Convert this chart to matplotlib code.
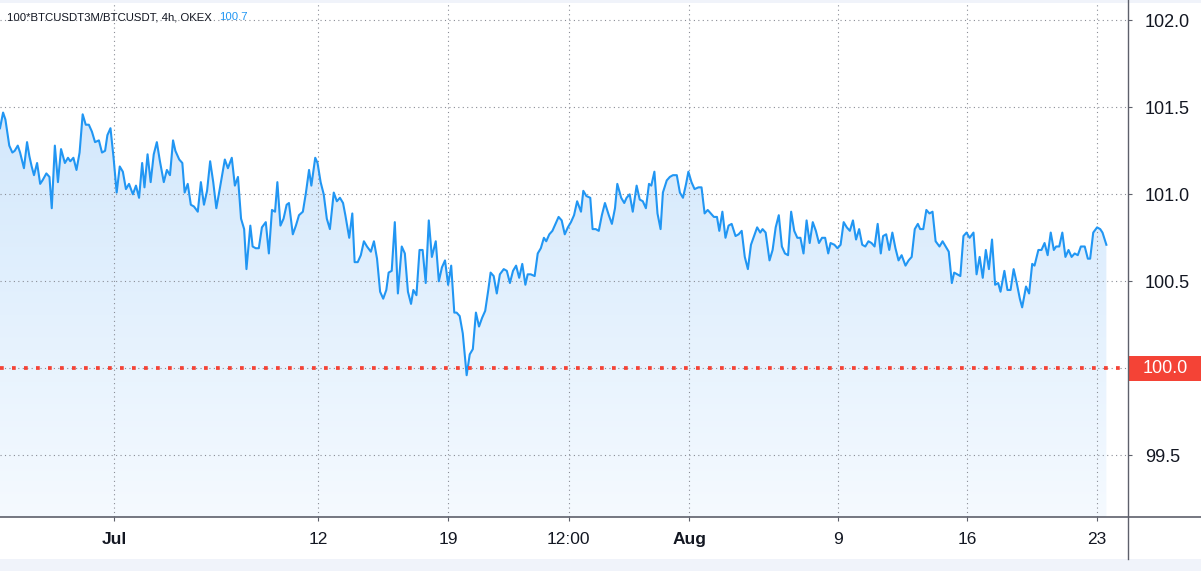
import numpy as np
import pandas as pd
import matplotlib
matplotlib.use('Agg')
import matplotlib.pyplot as plt
from matplotlib.colors import LinearSegmentedColormap
from matplotlib.patches import Rectangle
from matplotlib.lines import Line2D
from matplotlib.transforms import blended_transform_factory
import matplotlib.dates as mdates

plt.rcParams['font.family'] = ['Liberation Sans', 'DejaVu Sans']

# 100*BTCUSDT3M/BTCUSDT, 4h, OKEX
# hours since 2021-07-01 00:00 and ratio at that bar
hours = [
    -148, -144, -141, -136, -132, -129, -125, -122, -117, -113, -110, -107, -104, -100, -96, -93, -88, -84, -81, -77,
    -73, -69, -64, -60, -57, -53, -49, -45, -41, -37, -33, -29, -25, -20, -16, -12, -9, -5, -1, 3,
    7, 11, 15, 19, 24, 28, 32, 36, 39, 43, 47, 51, 55, 59, 64, 68, 72, 76, 79, 84,
    88, 91, 95, 99, 103, 108, 112, 116, 120, 124, 128, 132, 136,
    143, 147, 152, 156, 160, 164, 168, 171, 176, 179, 183, 187, 191, 196, 200, 204, 208, 211, 215, 219,
    223, 226, 231, 235, 239, 244, 248, 252, 255, 260, 263, 267, 271, 275, 279, 284, 288, 292, 296, 299,
    304, 308, 311, 315, 319, 323, 327, 332, 336, 340, 344, 348, 352, 355, 359, 363, 367, 372, 376, 380,
    384, 387, 391, 395, 399, 403, 407, 411, 416, 420, 424, 428,
    432, 436, 440, 443, 447, 451, 456, 460, 464, 468, 472, 476, 480, 484, 487, 491, 495, 499, 504, 508,
    512, 516, 520, 524, 528, 532, 535, 539, 544, 548, 552, 556, 559, 563, 567, 571, 575, 579, 583, 587,
    591, 595, 599, 604, 607, 611, 616, 619, 623, 627, 631, 635, 640, 644, 648, 651, 656, 660, 663, 667,
    671, 676, 680, 684, 688, 692, 695, 699, 703, 707,
    710, 715, 719, 723, 728, 732, 736, 740, 743, 747, 751, 756, 760, 764, 768, 772, 776, 780, 783, 787,
    791, 795, 799, 804, 808, 812, 816, 820, 824, 828, 832, 836, 839, 843, 848, 852, 856, 860, 864, 868,
    872, 876, 880, 884, 888, 892, 896, 900, 904, 908, 912, 916, 920, 924, 927, 932, 936, 940, 944, 948,
    952, 956, 960, 964, 968, 972, 976, 980, 984, 988, 992,
    995, 999, 1003, 1007, 1011, 1015, 1019, 1024, 1028, 1032, 1036, 1040, 1043, 1047, 1051, 1055, 1059, 1063, 1068, 1072,
    1076, 1080, 1084, 1087, 1091, 1095, 1099, 1103, 1107, 1112, 1116, 1120, 1124, 1128, 1132, 1136, 1140, 1144, 1147, 1152,
    1156, 1160, 1164, 1168, 1172, 1175, 1180, 1184, 1188, 1191, 1196, 1200, 1204, 1208, 1212, 1216, 1219, 1223, 1227, 1231,
    1235, 1239, 1243, 1247, 1251, 1256, 1260, 1263, 1267, 1272, 1276, 1279, 1284,
]
ratio = [
    101.38, 101.47, 101.43, 101.28, 101.24, 101.25, 101.28, 101.24, 101.15, 101.30, 101.22, 101.16, 101.11, 101.18, 101.06, 101.08, 101.12, 101.10, 100.92, 101.28,
    101.07, 101.26, 101.18, 101.21, 101.19, 101.21, 101.14, 101.24, 101.46, 101.40, 101.40, 101.36, 101.30, 101.31, 101.24, 101.25, 101.34, 101.38, 101.21, 101.01,
    101.16, 101.13, 101.03, 101.06, 101.00, 101.05, 100.98, 101.18, 101.04, 101.23, 101.07, 101.23, 101.30, 101.19, 101.07, 101.14, 101.11, 101.31, 101.25, 101.20,
    101.18, 101.01, 101.06, 100.94, 100.93, 100.90, 101.07, 100.94, 101.02, 101.19, 101.07, 100.92, 101.02,
    101.20, 101.15, 101.21, 101.05, 101.10, 100.86, 100.80, 100.57, 100.82, 100.70, 100.69, 100.69, 100.81, 100.84, 100.66, 100.91, 100.90, 101.07, 100.82, 100.86,
    100.94, 100.95, 100.77, 100.82, 100.88, 100.90, 101.01, 101.14, 101.05, 101.21, 101.18, 101.07, 101.00, 100.86, 100.80, 101.01, 100.96, 100.98, 100.95, 100.88,
    100.75, 100.89, 100.61, 100.61, 100.65, 100.73, 100.70, 100.67, 100.73, 100.63, 100.44, 100.40, 100.45, 100.55, 100.56, 100.84, 100.43, 100.70, 100.66, 100.44,
    100.37, 100.45, 100.42, 100.68, 100.68, 100.49, 100.85, 100.64, 100.73, 100.50, 100.58, 100.62,
    100.48, 100.59, 100.32, 100.32, 100.30, 100.20, 99.96, 100.08, 100.11, 100.32, 100.24, 100.29, 100.33, 100.45, 100.55, 100.53, 100.43, 100.54, 100.57, 100.56,
    100.49, 100.56, 100.59, 100.52, 100.60, 100.48, 100.54, 100.54, 100.53, 100.66, 100.69, 100.75, 100.73, 100.77, 100.79, 100.83, 100.87, 100.85, 100.77, 100.81,
    100.84, 100.88, 100.96, 100.90, 101.02, 100.99, 100.98, 100.80, 100.80, 100.79, 100.88, 100.95, 100.88, 100.83, 100.92, 101.06, 100.98, 100.95, 100.98, 101.00,
    100.90, 101.05, 100.97, 100.96, 100.92, 101.06, 101.05, 101.13, 100.89, 100.80,
    101.01, 101.08, 101.10, 101.11, 101.11, 101.01, 100.98, 101.06, 101.13, 101.07, 101.03, 101.04, 101.04, 100.89, 100.91, 100.89, 100.87, 100.87, 100.79, 100.90,
    100.75, 100.82, 100.83, 100.76, 100.77, 100.79, 100.64, 100.57, 100.71, 100.76, 100.81, 100.78, 100.80, 100.78, 100.62, 100.68, 100.81, 100.88, 100.70, 100.66,
    100.65, 100.90, 100.79, 100.75, 100.75, 100.66, 100.85, 100.72, 100.84, 100.79, 100.72, 100.75, 100.75, 100.66, 100.72, 100.71, 100.69, 100.71, 100.84, 100.81,
    100.79, 100.85, 100.74, 100.80, 100.71, 100.70, 100.73, 100.72, 100.70, 100.83, 100.66,
    100.76, 100.77, 100.68, 100.78, 100.69, 100.62, 100.65, 100.59, 100.62, 100.64, 100.80, 100.83, 100.80, 100.80, 100.91, 100.89, 100.90, 100.73, 100.70, 100.73,
    100.70, 100.67, 100.49, 100.55, 100.54, 100.53, 100.76, 100.78, 100.75, 100.78, 100.54, 100.64, 100.52, 100.68, 100.57, 100.74, 100.48, 100.49, 100.44, 100.56,
    100.45, 100.45, 100.57, 100.49, 100.40, 100.35, 100.47, 100.43, 100.60, 100.59, 100.68, 100.68, 100.72, 100.65, 100.78, 100.68, 100.70, 100.70, 100.78, 100.64,
    100.68, 100.64, 100.66, 100.65, 100.70, 100.70, 100.63, 100.63, 100.78, 100.81, 100.80, 100.78, 100.71,
]

x_ticks = ['2021-07-01 00:00', '2021-07-12 00:00', '2021-07-19 00:00', '2021-07-25 12:00',
           '2021-08-01 00:00', '2021-08-09 00:00', '2021-08-16 00:00', '2021-08-23 00:00']
x_labels = ['Jul', '12', '19', '12:00', 'Aug', '9', '16', '23']
y_ticks = [99.5, 100.0, 100.5, 101.0, 101.5, 102.0]
level = 100.0
title = '100*BTCUSDT3M/BTCUSDT, 4h, OKEX'
last_value = '100.7'

t0 = pd.Timestamp('2021-07-01')
times = t0 + pd.to_timedelta(hours, unit='h')

W, H = 1201, 571
fig = plt.figure(figsize=(W / 100, H / 100), dpi=100)
fig.patch.set_facecolor('white')
ax = fig.add_axes([0, 54 / H, 1128 / W, 517 / H])
ax.set_facecolor('white')

blue = '#2196f3'
red = '#f44336'
ymin, ymax = 99.145, 102.117
xmin = t0 - pd.Timedelta(hours=148)
xmax = t0 + pd.Timedelta(hours=1312)

ax.plot(times, ratio, color=blue, lw=1.5, solid_joinstyle='round', zorder=3)

# gradient area under the line
poly = ax.fill_between(times, ratio, ymin, facecolor='none', edgecolor='none')
cmap = LinearSegmentedColormap.from_list('area', ['#f5faff', '#d3e8fc'])
grad = np.linspace(0, 1, 256).reshape(-1, 1)
im = ax.imshow(grad, extent=[mdates.date2num(xmin), mdates.date2num(xmax), ymin, max(ratio)],
               origin='lower', aspect='auto', cmap=cmap, zorder=1, interpolation='bilinear')
im.set_clip_path(poly.get_paths()[0], transform=ax.transData)

ax.set_xlim(xmin, xmax)
ax.set_ylim(ymin, ymax)

# grid
ax.set_xticks(pd.to_datetime(x_ticks, format='%Y-%m-%d %H:%M'))
ax.set_xticklabels(x_labels)
ax.set_yticks(y_ticks)
# the 100.0 label is drawn in the red box instead
ax.set_yticklabels(['' if v == level else f'{v:.1f}' for v in y_ticks])
ax.grid(True, linestyle=(0, (1, 3)), color='#8a8d96', lw=0.8, zorder=1.5)

ax.yaxis.tick_right()
ax.tick_params(axis='y', direction='out', length=3, width=0.8, pad=9, labelsize=13,
               colors='#5d606b', labelcolor='#131722')
ax.tick_params(axis='x', direction='out', length=3, width=0.8, pad=8, labelsize=12.5,
               colors='#5d606b', labelcolor='#131722')
for lab in ax.get_xticklabels():
    if lab.get_text() in ('Jul', 'Aug'):
        lab.set_fontweight('bold')
for s in ax.spines.values():
    s.set_visible(False)

# level line at 100
ax.axhline(level, color=red, lw=2.7, linestyle=(0, (1, 2.2)), dash_capstyle='butt', zorder=4)
tr = blended_transform_factory(ax.transAxes, ax.transData)
ax.add_patch(Rectangle((1.0, level - 0.072), 73 / 1128, 0.144, transform=tr,
                       facecolor=red, edgecolor='none', clip_on=False, zorder=5))
ax.text(1 + 15 / 1128, level, f'{level:.1f}', transform=tr, color='white', fontsize=13,
        va='center', ha='left', zorder=6, clip_on=False)

# frame lines and bands
fig.add_artist(Line2D([0, 1], [54 / H, 54 / H], color='#5d606b', lw=1.2, transform=fig.transFigure))
fig.add_artist(Line2D([1128 / W, 1128 / W], [12 / H, 1], color='#5d606b', lw=1.0, transform=fig.transFigure))
fig.add_artist(Rectangle((0, 0), 1, 12 / H, transform=fig.transFigure, facecolor='#f0f3fa', edgecolor='none'))
fig.add_artist(Rectangle((0, 1 - 3 / H), 1, 3 / H, transform=fig.transFigure, facecolor='#f0f3fa', edgecolor='none'))

# header: symbol, then last value right after it
head = fig.text(7 / W, 1 - 17 / H, title, fontsize=8.2, color='#131722', va='center', ha='left')
fig.canvas.draw()
bb = head.get_window_extent()
fig.text((bb.x1 + 7) / W, 1 - 17 / H, last_value, fontsize=8.2, color=blue, va='center', ha='left')

fig.savefig('out.png', dpi=100)
